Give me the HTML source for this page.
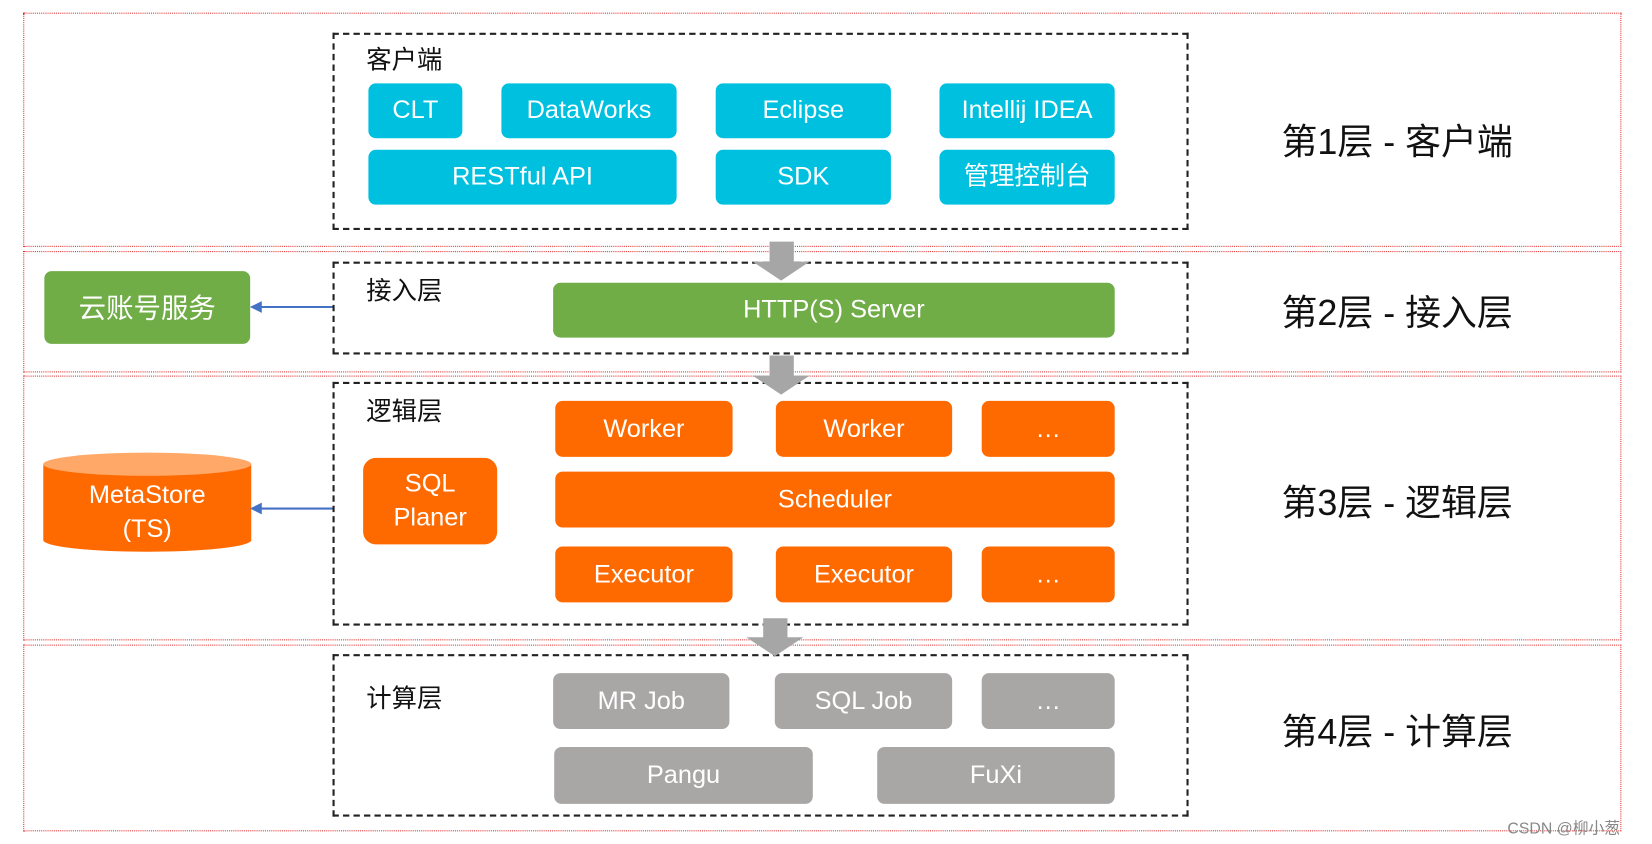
<!DOCTYPE html>
<html><head><meta charset="utf-8"><style>
html,body{margin:0;padding:0;background:#fff;overflow:hidden;width:1652px;height:844px}
#w{position:absolute;left:0;top:0;width:1565px;height:800px;transform-origin:0 0;transform:scale(1.05559,1.055)}
.a{position:absolute;box-sizing:border-box}
.band{border:1px dotted #e03030}
.dash{border:2px dashed #222}
.b{display:flex;align-items:center;justify-content:center;color:#fff;font:24px "Liberation Sans","Noto Sans CJK SC",sans-serif;border-radius:7px;text-align:center;line-height:32px}
.c{background:#00c0e0}.g{background:#70ad47}.o{background:#ff6a00}.y{background:#a9a6a6}
.lab{font:24px "Liberation Sans","Noto Sans CJK SC",sans-serif;color:#111}
.r{font:34px "Liberation Sans","Noto Sans CJK SC",sans-serif;color:#111}
</style></head><body><div id="w">
<div class="a band" style="left:22px;top:12px;width:1514px;height:222px"></div>
<div class="a band" style="left:22px;top:238px;width:1514px;height:115px"></div>
<div class="a band" style="left:22px;top:356px;width:1514px;height:251px"></div>
<div class="a band" style="left:22px;top:611px;width:1514px;height:177px"></div>

<div class="a dash" style="left:315px;top:31px;width:811px;height:187px"></div>
<div class="a dash" style="left:315px;top:248px;width:811px;height:88px"></div>
<div class="a dash" style="left:315px;top:362px;width:811px;height:231px"></div>
<div class="a dash" style="left:315px;top:620px;width:811px;height:154px"></div>

<div class="a lab" style="left:347px;top:37px">客户端</div>
<div class="a lab" style="left:347px;top:256px">接入层</div>
<div class="a lab" style="left:347px;top:370px">逻辑层</div>
<div class="a lab" style="left:347px;top:642px">计算层</div>

<div class="a b c" style="left:349px;top:79px;width:89px;height:52px">CLT</div>
<div class="a b c" style="left:475px;top:79px;width:166px;height:52px">DataWorks</div>
<div class="a b c" style="left:678px;top:79px;width:166px;height:52px">Eclipse</div>
<div class="a b c" style="left:890px;top:79px;width:166px;height:52px">Intellij IDEA</div>
<div class="a b c" style="left:349px;top:142px;width:292px;height:52px">RESTful API</div>
<div class="a b c" style="left:678px;top:142px;width:166px;height:52px">SDK</div>
<div class="a b c" style="left:890px;top:142px;width:166px;height:52px">管理控制台</div>

<div class="a b g" style="left:42px;top:257px;width:195px;height:69px;font-size:26px">云账号服务</div>
<div class="a b g" style="left:524px;top:268px;width:532px;height:52px">HTTP(S) Server</div>

<div class="a b o" style="left:526px;top:380px;width:168px;height:53px">Worker</div>
<div class="a b o" style="left:735px;top:380px;width:167px;height:53px">Worker</div>
<div class="a b o" style="left:930px;top:380px;width:126px;height:53px">…</div>
<div class="a b o" style="left:526px;top:447px;width:530px;height:53px">Scheduler</div>
<div class="a b o" style="left:526px;top:518px;width:168px;height:53px">Executor</div>
<div class="a b o" style="left:735px;top:518px;width:167px;height:53px">Executor</div>
<div class="a b o" style="left:930px;top:518px;width:126px;height:53px">…</div>
<div class="a b o" style="left:344px;top:434px;width:127px;height:82px;border-radius:12px">SQL<br>Planer</div>

<svg class="a" style="left:0;top:0" width="1565" height="800">
<path d="M41 440 V512 A98.5 11 0 0 0 238 512 V440 Z" fill="#ff6a00"/>
<ellipse cx="139.5" cy="440" rx="98.5" ry="11" fill="#ffa868"/>
<text x="139.5" y="477" fill="#fff" font-family="Liberation Sans" font-size="24" text-anchor="middle">MetaStore</text>
<text x="139.5" y="509" fill="#fff" font-family="Liberation Sans" font-size="24" text-anchor="middle">(TS)</text>
<g stroke="#4472c4" stroke-width="2" fill="#4472c4">
<line x1="315" y1="291" x2="244" y2="291"/><path d="M239 291 L247 287 L247 295Z"/>
<line x1="315" y1="482" x2="244" y2="482"/><path d="M239 482 L247 478 L247 486Z"/>
</g>
<g fill="#a6a6a6">
<path d="M729 229 H752 V248 H767 L740 266 L713 248 H729Z"/>
<path d="M729 337 H752 V356 H767 L740 374 L713 356 H729Z"/>
<path d="M723 586 H746 V604 H761 L734 622 L707 604 H723Z"/>
</g>
</svg>

<div class="a b y" style="left:524px;top:638px;width:167px;height:53px">MR Job</div>
<div class="a b y" style="left:734px;top:638px;width:168px;height:53px">SQL Job</div>
<div class="a b y" style="left:930px;top:638px;width:126px;height:53px">…</div>
<div class="a b y" style="left:525px;top:708px;width:245px;height:54px">Pangu</div>
<div class="a b y" style="left:831px;top:708px;width:225px;height:54px">FuXi</div>

<div class="a r" style="left:1214px;top:107px">第1层 - 客户端</div>
<div class="a r" style="left:1214px;top:269px">第2层 - 接入层</div>
<div class="a r" style="left:1214px;top:449px">第3层 - 逻辑层</div>
<div class="a r" style="left:1214px;top:666px">第4层 - 计算层</div>
<div class="a" style="left:1428px;top:774px;font:15px 'Liberation Sans','Noto Sans CJK SC',sans-serif;color:#888">CSDN @柳小葱</div>
</div></body></html>
